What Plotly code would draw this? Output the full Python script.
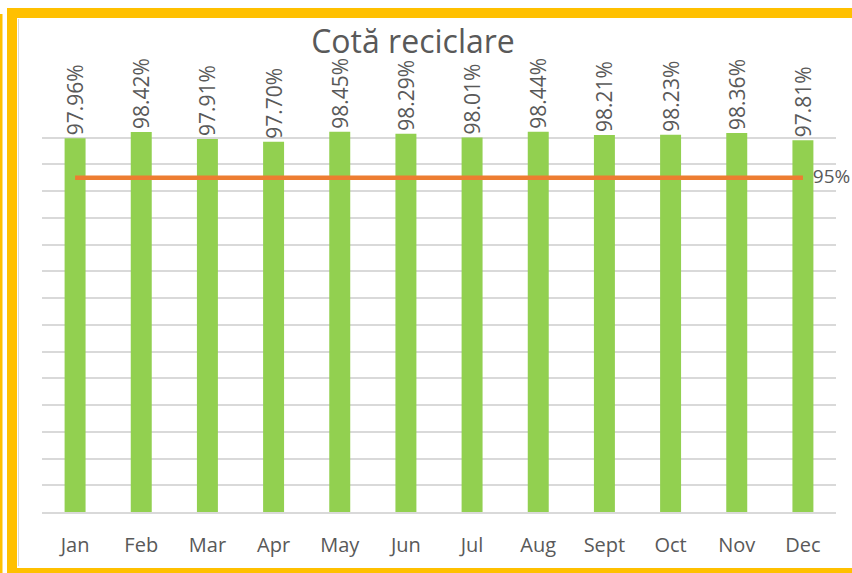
import plotly.graph_objects as go

months = ["Jan", "Feb", "Mar", "Apr", "May", "Jun", "Jul", "Aug", "Sept", "Oct", "Nov", "Dec"]
recycling_rate = [0.9796, 0.9842, 0.9791, 0.9770, 0.9845, 0.9829, 0.9801, 0.9844, 0.9821, 0.9823, 0.9836, 0.9781]
target_rate = [0.95] * 12
target_labels = [""] * 11 + ["  95%"]

W, H = 852, 573
L, R, T, B = 42, 836, 111, 512
FONT = "Open Sans"
GREY = "#595959"


def px(x):
    return (x - L) / (R - L)


def py(y):
    return (B - y) / (B - T)


fig = go.Figure()
fig.add_trace(go.Bar(
    x=months, y=recycling_rate,
    marker=dict(color="#92D050", line=dict(width=0)),
    texttemplate="%{y:.2%}", textposition="outside", textangle=-90,
    textfont=dict(family=FONT, size=21, color=GREY),
    constraintext="none", cliponaxis=False, hoverinfo="skip",
))
fig.add_trace(go.Scatter(
    x=months, y=target_rate, mode="lines+text",
    line=dict(color="#ED7D31", width=4.5),
    text=target_labels, textposition="middle right",
    textfont=dict(family=FONT, size=19, color=GREY),
    cliponaxis=False, hoverinfo="skip",
))

fig.update_layout(
    width=W, height=H,
    margin=dict(l=L, r=W - R, t=T, b=H - B),
    paper_bgcolor="white", plot_bgcolor="white",
    showlegend=False, bargap=0.683,
    font=dict(family=FONT, color=GREY),
    title=dict(text="Cotă reciclare", x=413 / W, xref="container", xanchor="center",
               y=1 - 42 / H, yref="container", yanchor="middle",
               font=dict(family=FONT, size=32, color=GREY)),
    xaxis=dict(showgrid=False, showline=True, linecolor="#D9D9D9", linewidth=1.5,
               range=[-0.5, len(months) - 0.5],
               ticks="", tickfont=dict(family=FONT, size=20, color=GREY),
               ticklabelstandoff=14, fixedrange=True),
    yaxis=dict(range=[0.70, 1.00], dtick=0.02, showgrid=True, gridcolor="#D9D9D9",
               gridwidth=1.5, showticklabels=False, zeroline=False, showline=False,
               fixedrange=True),
    shapes=[
        dict(type="rect", xref="paper", yref="paper",
             x0=px(12), x1=px(866), y0=py(573), y1=py(13),
             line=dict(color="#FFC000", width=10), layer="above"),
        dict(type="line", xref="paper", yref="paper",
             x0=px(1), x1=px(1), y0=py(585), y1=py(14),
             line=dict(color="#FFC000", width=3), layer="above"),
        dict(type="line", xref="paper", yref="paper",
             x0=px(18.5), x1=px(18.5), y0=py(566), y1=py(19),
             line=dict(color="#D9D9D9", width=1), layer="above"),
    ],
)

fig.write_html("out.html", config={"displayModeBar": False},
               post_script="document.body.style.margin='0';document.body.style.overflow='hidden';")
